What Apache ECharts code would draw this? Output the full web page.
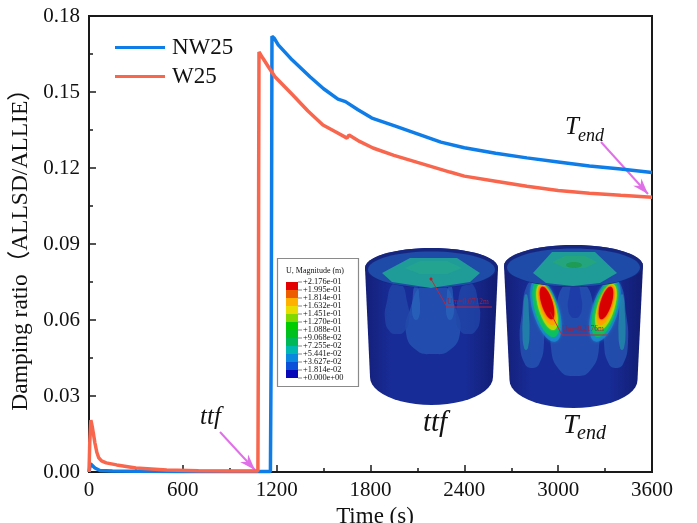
<!DOCTYPE html>
<html><head><meta charset="utf-8">
<script src="https://cdn.jsdelivr.net/npm/echarts@6/dist/echarts.min.js"></script>
<style>html,body{margin:0;padding:0;background:#fff}#c{width:697px;height:523px}</style>
</head><body><div id="c"></div>
<script>
var nw25 = [[0,0],[4,0.0015],[10,0.0032],[20,0.0026],[38,0.0016],[70,0.0006],[150,0.0004],[300,0.0003],[600,0.0002],[900,0.0002],[1160,0.0002],[1165,0.05],[1168,0.12],[1170,0.1720],[1185,0.1712],[1210,0.1686],[1300,0.1626],[1413,0.1560],[1500,0.1513],[1592,0.1472],[1600,0.1476],[1640,0.1462],[1720,0.1430],[1809,0.1397],[1950,0.1367],[2100,0.1335],[2250,0.1302],[2400,0.1280],[2600,0.1258],[2800,0.1240],[3000,0.1224],[3200,0.1208],[3400,0.1196],[3600,0.1182]];
var w25 = [[0,0],[5,0.012],[12,0.0205],[22,0.0175],[38,0.0114],[50,0.0078],[62,0.0056],[80,0.0044],[110,0.0036],[177,0.0028],[300,0.0016],[497,0.0008],[700,0.0005],[900,0.0004],[1080,0.0004],[1083,0.05],[1085,0.12],[1087,0.1658],[1110,0.1635],[1150,0.1597],[1189,0.1560],[1300,0.1490],[1400,0.1425],[1496,0.1370],[1570,0.1345],[1650,0.1318],[1663,0.1330],[1730,0.1305],[1816,0.1279],[1950,0.1250],[2100,0.1222],[2308,0.1184],[2400,0.1168],[2600,0.1148],[2800,0.1128],[3000,0.1111],[3200,0.1100],[3400,0.1092],[3600,0.1085]];
var seriesNames = ['NW25','W25'];
var colorbarLabels = ['+2.176e-01','+1.995e-01','+1.814e-01','+1.632e-01','+1.451e-01','+1.270e-01','+1.088e-01','+9.068e-02','+7.255e-02','+5.441e-02','+3.627e-02','+1.814e-02','+0.000e+00'];
var colorbarColors = ['#e20000','#ee5c00','#ffb000','#e8dc00','#80d800','#00cc00','#00c020','#00b858','#00b8b0','#0a88e0','#0a50d8','#0808b8'];

var serif = '"Liberation Serif","Times New Roman",serif';
var g = [];
function ell(cx,cy,rx,ry,fill,op,rot,blur){
  g.push({type:'ellipse',shape:{cx:0,cy:0,rx:rx,ry:ry},x:cx,y:cy,rotation:(rot||0)*Math.PI/180,
    style:{fill:fill,opacity:op==null?1:op,shadowBlur:blur||0,shadowColor:fill},silent:true});
}
function poly(pts,fill,op,smooth){g.push({type:'polygon',shape:{points:pts,smooth:smooth||0},style:{fill:fill,opacity:op==null?1:op},silent:true});}
function line(pts,color,w,op){g.push({type:'polyline',shape:{points:pts},style:{stroke:color,lineWidth:w,fill:null,opacity:op==null?1:op},silent:true});}
function txt(x,y,t,size,opt){opt=opt||{};g.push({type:'text',x:x,y:y,silent:true,style:{text:t,fontFamily:serif,fontSize:size,fontStyle:opt.italic?'italic':'normal',fill:opt.color||'#111',textAlign:opt.align||'left',textVerticalAlign:'middle',verticalAlign:'middle'}});}
function arc(cx,cy,rx,ry,a0,a1,n){var p=[];for(var i=0;i<=n;i++){var a=(a0+(a1-a0)*i/n)*Math.PI/180;p.push([cx+rx*Math.cos(a),cy+ry*Math.sin(a)]);}return p;}
function tongue(cx,top,bottom,w,fill,op){
  var h=bottom-top;
  poly([[cx-w*0.18,top],[cx-w*0.42,top+h*0.35],[cx-w*0.5,top+h*0.7],[cx-w*0.3,top+h*0.95],[cx,bottom],[cx+w*0.3,top+h*0.95],[cx+w*0.5,top+h*0.7],[cx+w*0.42,top+h*0.35],[cx+w*0.18,top]],fill,op,0.5);
}
function cylinder(cx,cyTop,rx,ry,rxB,cyB,ryB,draw,domeDraw){
  var body=[].concat(arc(cx,cyTop,rx,ry,180,360,24),[[cx+rxB,cyB]],arc(cx,cyB,rxB,ryB,0,180,24));
  g.push({type:'polygon',shape:{points:body},silent:true,style:{fill:new echarts.graphic.LinearGradient(0,0,1,0,[{offset:0,color:'#141f78'},{offset:.2,color:'#182c98'},{offset:.75,color:'#182c98'},{offset:1,color:'#121c70'}])}});
  draw();
  ell(cx,cyTop,rx,ry,'#16267f');
  ell(cx,cyTop+1.5,rx-3,ry-2,'#1e4aa8');
  domeDraw();
}
// inset legend
g.push({type:'rect',shape:{x:277.5,y:258.5,width:81,height:128},style:{fill:'#fff',stroke:'#8a8a8a',lineWidth:1.2},silent:true});
txt(286,271,'U, Magnitude (m)',8);
colorbarColors.forEach(function(c,i){
  g.push({type:'rect',shape:{x:286,y:282+8*i,width:12,height:8},style:{fill:c},silent:true});
});
colorbarLabels.forEach(function(l,i){
  line([[298,282+8*i],[302,282+8*i]],'#555',0.7);
  txt(303,281.5+8*i,l,8.4);
});
// left cylinder (ttf)
cylinder(431.5,268,66.5,20,61.5,377,28,function(){
  tongue(433,284,354,54,'#2552b0',0.85);
  tongue(397,284,334,24,'#2248aa',0.75);
  tongue(468,284,334,24,'#2248aa',0.75);
  tongue(416,286,320,8,'#2c6cc0',0.6);
  tongue(450,286,320,8,'#2c6cc0',0.6);
},function(){
  poly([[382,273],[410,258],[457,258],[480,273],[470,282],[431,288],[392,282]],'#1f9c98');
  poly([[405,268],[420,261],[447,261],[462,268],[447,274],[420,274]],'#24a690',0.8);
});
// right cylinder (Tend)
cylinder(573.5,266,69.5,21,64,380,28,function(){
  tongue(575,282,376,48,'#2552b0',0.85);
  tongue(532,284,368,24,'#2552b0',0.85);
  tongue(616,284,368,24,'#2552b0',0.85);
  tongue(526,295,350,7,'#22a0a8',0.6);
  tongue(622,295,350,7,'#22a0a8',0.6);
  tongue(575,284,318,14,'#1c3aa6',0.85);
  [[547,305,17],[606,305,-17]].forEach(function(b){
    ell(b[0]-1,b[1]+5,13,33,'#1a8fd0',0.7,b[2],3);
    ell(b[0]-1,b[1]+4,11,29,'#0cc060',0.95,b[2],2);
    ell(b[0],b[1]+2,8.5,24,'#b8d800',1,b[2],2);
    ell(b[0],b[1],7,21,'#ffa000',1,b[2],2);
    ell(b[0],b[1]-2,5.5,17,'#d80000',1,b[2],2);
  });
},function(){
  poly([[533,273],[552,252],[595,252],[617,273],[600,283],[573,286],[546,283]],'#1f9c98');
  poly([[552,262],[565,256],[585,256],[597,262],[585,268],[565,268]],'#26a878',0.8);
  ell(574,265,8,3,'#1e9a50',0.9);
});
// inset annotations
line([[431,279],[447,307],[492,307]],'#d02030',0.9);
ell(431,279,1.5,1.5,'#d81020');
txt(447,302,'Um=0.0712m',7.5,{color:'#a02040'});
line([[550,312],[562,335],[608,335]],'#d02030',0.9);
txt(562,329,'Um=0.2176m',7.5,{color:'#a02040'});
// italic annotations
txt(435,423,'ttf',29,{italic:true,align:'center'});
txt(563,426,'T',28,{italic:true});
txt(577,434,'end',20,{italic:true});
txt(200,417,'ttf',25,{italic:true});
txt(565,127,'T',25,{italic:true});
txt(578,136,'end',18,{italic:true});
// pink arrows
function arrow(x0,y0,x1,y1){
  line([[x0,y0],[x1,y1]],'#e070e8',2);
  var a=Math.atan2(y1-y0,x1-x0),L=16,W=5.5,bx=x1-L*Math.cos(a),by=y1-L*Math.sin(a);
  poly([[x1,y1],[bx-W*Math.sin(a),by+W*Math.cos(a)],[x1-L*0.7*Math.cos(a),y1-L*0.7*Math.sin(a)],[bx+W*Math.sin(a),by-W*Math.cos(a)]],'#e070e8');
}
arrow(220,432,255,470);
arrow(601,142,648,194);

var chart = echarts.init(document.getElementById('c'),null,{renderer:'canvas'});
chart.setOption({
  animation:false,
  backgroundColor:'#fff',
  textStyle:{fontFamily:serif},
  grid:{left:89,right:45,top:16,bottom:51,outerBoundsMode:'none',containLabel:false,show:true,borderColor:'#1a1a1a',borderWidth:2,backgroundColor:'transparent'},
  legend:{orient:'vertical',left:110,top:31,itemWidth:50,itemHeight:3,itemGap:6,icon:'rect',
    data:seriesNames,textStyle:{fontFamily:serif,fontSize:23,color:'#111',padding:[0,0,0,2]},selectedMode:false},
  xAxis:{type:'value',min:0,max:3600,interval:600,
    name:'Time (s)',nameLocation:'middle',nameGap:28,nameTextStyle:{fontFamily:serif,fontSize:23,color:'#111',padding:[0,0,0,9]},
    axisLine:{show:true,onZero:false,lineStyle:{color:'#1a1a1a',width:2}},
    axisTick:{show:true,inside:true,length:7,lineStyle:{color:'#1a1a1a',width:1.5}},
    minorTick:{show:true,splitNumber:2,length:4,lineStyle:{color:'#1a1a1a',width:1.5}},
    splitLine:{show:false},
    axisLabel:{fontFamily:serif,fontSize:21,color:'#111',margin:8,showMinLabel:true,showMaxLabel:true,hideOverlap:false,formatter:function(v){return String(v);}}},
  yAxis:{type:'value',min:0,max:0.18,interval:0.03,
    name:'Damping ratio（ALLSD/ALLIE）',nameLocation:'middle',nameGap:45,nameRotate:90,
    nameTextStyle:{fontFamily:'"Liberation Serif","Noto Sans CJK SC",serif',fontSize:23.5,color:'#111'},
    axisLine:{show:true,lineStyle:{color:'#1a1a1a',width:2}},
    axisTick:{show:true,inside:true,length:7,lineStyle:{color:'#1a1a1a',width:1.5}},
    minorTick:{show:true,splitNumber:2,length:4,lineStyle:{color:'#1a1a1a',width:1.5}},
    splitLine:{show:false},
    axisLabel:{fontFamily:serif,fontSize:21,color:'#111',margin:9,formatter:function(v){return v.toFixed(2);}}},
  series:[
    {name:seriesNames[0],type:'line',data:nw25,showSymbol:false,symbol:'none',lineStyle:{color:'#0f7de8',width:3.5},itemStyle:{color:'#0f7de8'},clip:false,z:3},
    {name:seriesNames[1],type:'line',data:w25,showSymbol:false,symbol:'none',lineStyle:{color:'#f8664e',width:3.5},itemStyle:{color:'#f8664e'},clip:false,z:4}
  ],
  graphic:{elements:g}
});
</script></body></html>
